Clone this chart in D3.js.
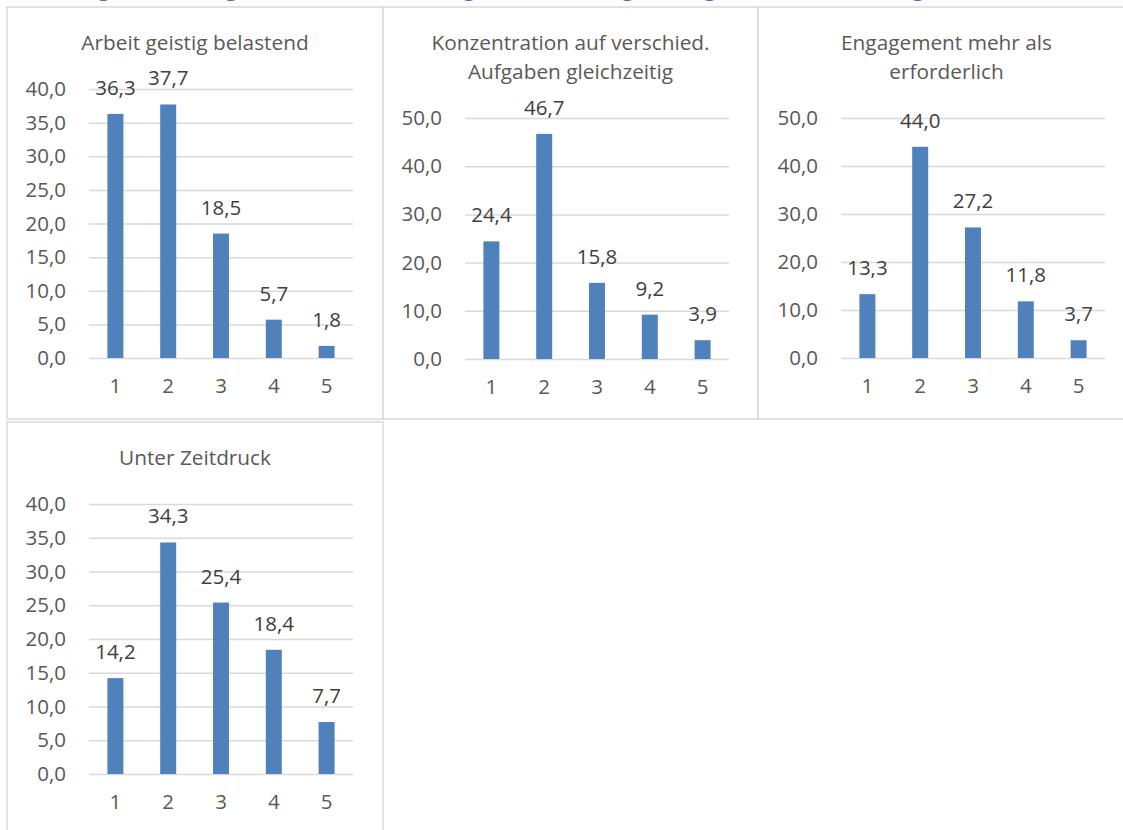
<!DOCTYPE html>
<html>
<head>
<meta charset="utf-8">
<script src="https://cdn.jsdelivr.net/npm/d3@7"></script>
<style>
  body { margin: 0; background: #fff; }
  svg { display: block; font-family: "Open Sans", "Segoe UI", sans-serif; }
</style>
</head>
<body>
<svg id="chart" width="1123" height="830"></svg>
<script>
// values
var categories = ["1", "2", "3", "4", "5"];
var titleArbeit = ["Arbeit geistig belastend"];
var titleKonzentration = ["Konzentration auf verschied.", "Aufgaben gleichzeitig"];
var titleEngagement = ["Engagement mehr als", "erforderlich"];
var titleZeitdruck = ["Unter Zeitdruck"];
var valuesArbeit = [36.3, 37.7, 18.5, 5.7, 1.8];
var valuesKonzentration = [24.4, 46.7, 15.8, 9.2, 3.9];
var valuesEngagement = [13.3, 44.0, 27.2, 11.8, 3.7];
var valuesZeitdruck = [14.2, 34.3, 25.4, 18.4, 7.7];
var ticks40 = [0, 5, 10, 15, 20, 25, 30, 35, 40];
var ticks50 = [0, 10, 20, 30, 40, 50];
var pageTitle = "Abbildung 6: Belastungen „Arbeitsanforderungen“ – Verteilung der Angaben nach Belastungsart (in %)";

var svg = d3.select("#chart");
var fmt = function(v) { return d3.format(".1f")(v).replace(".", ","); };

// heading, cut off at the top edge like in the original
svg.append("text")
   .attr("x", 8)
   .attr("y", -4)
   .style("font-size", "20px")
   .style("font-weight", "bold")
   .style("fill", "#4472c4")
   .text(pageTitle);

function DrawPanel(box, plot, title, values, ticks) {
    var g = svg.append("g");

    // frame
    g.append("rect")
     .attr("x", box.x).attr("y", box.y)
     .attr("width", box.w).attr("height", box.h)
     .attr("fill", "#fff")
     .attr("stroke", "#d9d9d9")
     .attr("stroke-width", 1.5);

    // title
    var cx = box.x + box.w / 2;
    title.forEach(function(line, i) {
        g.append("text")
         .attr("x", cx)
         .attr("y", box.y + 43 + i * 29)
         .attr("text-anchor", "middle")
         .style("font-size", "20.8px")
         .style("fill", "#595959")
         .text(line);
    });

    var xScale = d3.scaleBand().domain(categories)
                   .range([plot.left, plot.right])
                   .paddingInner(0.697).paddingOuter(0.3485);
    var yScale = d3.scaleLinear().domain([0, d3.max(ticks)])
                   .range([plot.bottom, plot.top]);

    // gridlines
    g.append("g")
     .attr("transform", "translate(" + plot.left + ",0)")
     .call(d3.axisLeft(yScale).tickValues(ticks)
             .tickSize(-(plot.right - plot.left)).tickFormat(""))
     .call(function(a) {
         a.select(".domain").remove();
         a.selectAll("line").attr("stroke", "#d9d9d9").attr("stroke-width", 1.5);
     });

    // y labels
    g.append("g")
     .attr("transform", "translate(" + (plot.left - 23) + ",0)")
     .call(d3.axisLeft(yScale).tickValues(ticks).tickSize(0).tickPadding(0).tickFormat(fmt))
     .call(function(a) {
         a.select(".domain").remove();
         a.selectAll("text")
          .style("font-family", "\"Open Sans\", sans-serif")
          .style("font-size", "20.5px")
          .style("fill", "#595959");
     });

    // x labels
    g.append("g")
     .attr("transform", "translate(0," + plot.bottom + ")")
     .call(d3.axisBottom(xScale).tickSize(0).tickPadding(20))
     .call(function(a) {
         a.select(".domain").remove();
         a.selectAll("text")
          .style("font-family", "\"Open Sans\", sans-serif")
          .style("font-size", "20.5px")
          .style("fill", "#595959");
     });

    // bars
    g.selectAll("rect.bar").data(values).enter()
     .append("rect")
     .attr("class", "bar")
     .attr("x", function(d, i) { return xScale(categories[i]); })
     .attr("width", xScale.bandwidth())
     .attr("y", function(d) { return yScale(d); })
     .attr("height", function(d) { return plot.bottom - yScale(d); })
     .attr("fill", "#4f81bd");

    // data labels
    g.selectAll("text.val").data(values).enter()
     .append("text")
     .attr("class", "val")
     .attr("x", function(d, i) { return xScale(categories[i]) + xScale.bandwidth() / 2; })
     .attr("y", function(d) { return yScale(d) - 19; })
     .attr("text-anchor", "middle")
     .style("font-size", "20.5px")
     .style("fill", "#404040")
     .text(fmt);
}

DrawPanel({x: 7, y: 7, w: 376, h: 412}, {left: 89, right: 353, top: 89, bottom: 358},
          titleArbeit, valuesArbeit, ticks40);
DrawPanel({x: 383, y: 7, w: 375, h: 412}, {left: 465, right: 729, top: 118, bottom: 359},
          titleKonzentration, valuesKonzentration, ticks50);
DrawPanel({x: 758, y: 7, w: 377, h: 412}, {left: 841, right: 1105, top: 118, bottom: 358},
          titleEngagement, valuesEngagement, ticks50);
DrawPanel({x: 7, y: 422, w: 376, h: 420}, {left: 89, right: 353, top: 504, bottom: 774},
          titleZeitdruck, valuesZeitdruck, ticks40);
</script>
</body>
</html>
